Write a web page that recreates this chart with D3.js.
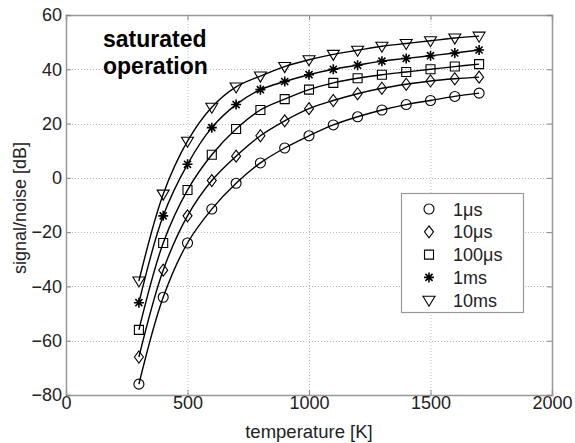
<!DOCTYPE html>
<html>
<head>
<meta charset="utf-8">
<script src="https://cdn.jsdelivr.net/npm/d3@7"></script>
<style>
  html, body { margin: 0; padding: 0; background: #fff; }
  svg { display: block; font-family: "Liberation Sans", Arial, sans-serif; }
</style>
</head>
<body>
<svg id="chart" width="575" height="443"></svg>
<script>
const temperatures = [300, 400, 500, 600, 700, 800, 900, 1000, 1100, 1200, 1300, 1400, 1500, 1600, 1700];
const snr1us   = [-76, -44, -24, -11.5, -2, 5.5, 11, 15.5, 19.5, 22.5, 25, 27, 28.5, 30, 31.2];
const snr10us  = [-66, -34, -14, -1, 8, 15.5, 21, 25.5, 28.5, 31, 33, 34.5, 35.7, 36.5, 37.1];
const snr100us = [-56, -24, -4.5, 8.5, 18, 25, 29, 32.5, 35, 36.7, 38, 39, 40, 41, 41.9];
const snr1ms   = [-46, -14, 5, 18.5, 27, 32.5, 35.5, 38, 40, 41.5, 43, 44, 45, 46, 47.1];
const snr10ms  = [-38, -6, 13.5, 26, 33.5, 37.5, 41, 43.5, 45.5, 47, 48.5, 49.5, 50.5, 51.5, 52.2];
const seriesNames = ["1\u03bcs", "10\u03bcs", "100\u03bcs", "1ms", "10ms"];
const seriesMarkers = ["circle", "diamond", "square", "star", "triangle"];
const xTicks = [0, 500, 1000, 1500, 2000];
const yTicks = [-80, -60, -40, -20, 0, 20, 40, 60];

const series = [snr1us, snr10us, snr100us, snr1ms, snr10ms].map((vals, i) => ({
  name: seriesNames[i], marker: seriesMarkers[i],
  points: temperatures.map((t, j) => ({ t, v: vals[j] }))
}));

const L = 66, R = 552, T = 15, B = 395;
const x = d3.scaleLinear().domain([0, 2000]).range([L, R]);
const y = d3.scaleLinear().domain([-80, 60]).range([B, T]);

const svg = d3.select("#chart");
const FONT = "Liberation Sans, Arial, sans-serif";

// grid
const grid = svg.append("g").attr("stroke", "#bbb").attr("stroke-width", 1).attr("stroke-dasharray", "1,2");
grid.selectAll(".gx").data(xTicks.slice(1, -1)).join("line")
  .attr("x1", d => x(d) + 0.5).attr("x2", d => x(d) + 0.5).attr("y1", T).attr("y2", B);
grid.selectAll(".gy").data(yTicks.slice(1, -1)).join("line")
  .attr("y1", d => Math.round(y(d)) + 0.5).attr("y2", d => Math.round(y(d)) + 0.5).attr("x1", L).attr("x2", R);

// axes with inward ticks
const tickColor = "#888";
const axB = svg.append("g").attr("transform", `translate(0,${B})`)
  .call(d3.axisBottom(x).tickValues(xTicks).tickSize(-5).tickPadding(1).tickFormat(d3.format("d")));
const axT = svg.append("g").attr("transform", `translate(0,${T})`)
  .call(d3.axisTop(x).tickValues(xTicks).tickSize(-5).tickFormat(""));
const axL = svg.append("g").attr("transform", `translate(${L},0)`)
  .call(d3.axisLeft(y).tickValues(yTicks).tickSize(-5).tickPadding(4).tickFormat(d3.format("d")));
const axR = svg.append("g").attr("transform", `translate(${R},0)`)
  .call(d3.axisRight(y).tickValues(yTicks).tickSize(-5).tickFormat(""));
[axB, axT, axL, axR].forEach(a => {
  a.select(".domain").attr("stroke", "#999").attr("stroke-width", 1.5);
  a.selectAll(".tick line").attr("stroke", tickColor);
  a.selectAll("text").attr("font-size", 18).attr("fill", "#222").attr("font-family", FONT);
});

// axis labels
svg.append("text").attr("x", (L + R) / 2).attr("y", 438).attr("text-anchor", "middle")
  .attr("font-size", 18.5).attr("fill", "#222").text("temperature [K]");
svg.append("text").attr("transform", `translate(26,208) rotate(-90)`)
  .attr("text-anchor", "middle").attr("font-size", 18).attr("fill", "#222").text("signal/noise [dB]");

// annotation
const ann = svg.append("text").attr("font-size", 23).attr("font-weight", "bold").attr("fill", "#000");
ann.append("tspan").attr("x", 103).attr("y", 47).text("saturated");
ann.append("tspan").attr("x", 103).attr("y", 74).text("operation");

// markers
function markerPath(type) {
  const p = d3.path();
  if (type === "circle") { p.moveTo(5, 0); p.arc(0, 0, 5, 0, 2 * Math.PI); }
  else if (type === "diamond") { p.moveTo(0, -6); p.lineTo(4.5, 0); p.lineTo(0, 6); p.lineTo(-4.5, 0); p.closePath(); }
  else if (type === "square") { p.rect(-4.5, -4.5, 9, 9); }
  else if (type === "triangle") { p.moveTo(-6, -4); p.lineTo(6, -4); p.lineTo(0, 6); p.closePath(); }
  else if (type === "star") {
    const r = 5;
    [0, 45, 90, 135].forEach(a => {
      const c = Math.cos(a * Math.PI / 180) * r, s = Math.sin(a * Math.PI / 180) * r;
      p.moveTo(-c, -s); p.lineTo(c, s);
    });
  }
  return p.toString();
}

const line = d3.line().x(d => x(d.t)).y(d => y(d.v)).curve(d3.curveCatmullRom.alpha(0.5));

const sg = svg.selectAll(".series").data(series).join("g");
sg.append("path").attr("d", d => line(d.points)).attr("fill", "none").attr("stroke", "#000").attr("stroke-width", 1.4);
sg.each(function (s) {
  d3.select(this).selectAll("path.m").data(s.points).join("path").attr("class", "m")
    .attr("transform", d => `translate(${x(d.t)},${y(d.v)})`)
    .attr("d", markerPath(s.marker))
    .attr("fill", "none").attr("stroke", "#000").attr("stroke-width", s.marker === "star" ? 1.6 : 1.1);
});

// legend
const lg = svg.append("g");
lg.append("rect").attr("x", 401.5).attr("y", 193.5).attr("width", 122).attr("height", 119)
  .attr("fill", "#fff").attr("stroke", "#999").attr("stroke-width", 1.2);
series.forEach((s, i) => {
  const cy = 209 + i * 22.8;
  lg.append("path").attr("transform", `translate(429,${cy})`).attr("d", markerPath(s.marker))
    .attr("fill", "none").attr("stroke", "#000").attr("stroke-width", s.marker === "star" ? 1.6 : 1.1);
  lg.append("text").attr("x", 453).attr("y", cy + 6.5).attr("font-size", 18).attr("fill", "#222").text(s.name);
});
</script>
</body>
</html>
